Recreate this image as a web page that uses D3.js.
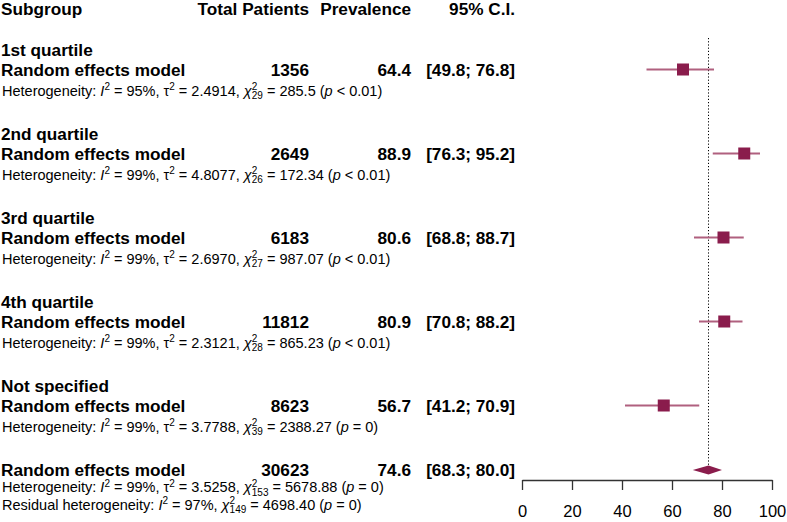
<!DOCTYPE html>
<html>
<head>
<meta charset="utf-8">
<script src="https://cdn.jsdelivr.net/npm/d3@7"></script>
<style>
  body { margin: 0; background: #fff; }
  text { font-family: "Liberation Sans", Arial, Helvetica, sans-serif; fill: #000; }
</style>
</head>
<body>
<div id="chart"></div>
<script>
// subgroup results
var subgroups = ['1st quartile', '2nd quartile', '3rd quartile', '4th quartile', 'Not specified'];
var patients = [1356, 2649, 6183, 11812, 8623];
var prevalence = [64.4, 88.9, 80.6, 80.9, 56.7];
var ciLower = [49.8, 76.3, 68.8, 70.8, 41.2];
var ciUpper = [76.8, 95.2, 88.7, 88.2, 70.9];
var hetI2 = ['95%', '99%', '99%', '99%', '99%'];
var hetTau2 = ['2.4914', '4.8077', '2.6970', '2.3121', '3.7788'];
var hetDf = ['29', '26', '27', '28', '39'];
var hetChi2 = ['285.5', '172.34', '987.07', '865.23', '2388.27'];
var hetP = ['< 0.01', '< 0.01', '< 0.01', '< 0.01', '= 0'];

// overall model: patients, prevalence, lower, upper
var overallValues = [30623, 74.6, 68.3, 80.0];
var overallHet = ['99%', '3.5258', '153', '5678.88', '= 0'];
var residualHet = ['97%', '149', '4698.40', '= 0'];

var tickValues = [0, 20, 40, 60, 80, 100];
var headers = ['Subgroup', 'Total Patients', 'Prevalence', '95% C.I.'];

var width = 787, height = 522;
var boldSize = 17.2, hetSize = 14.5, supSize = 10;
var markColor = '#8a1c4c', lineColor = '#b0607f';

var svg = d3.select('#chart').append('svg')
  .attr('width', width).attr('height', height);

var x = d3.scaleLinear().domain([0, 100]).range([522, 772]);

// column right edges
var colPatients = 309, colPrev = 411, colCI = 515;

function bold(txt, xPos, yPos, anchor) {
  return svg.append('text')
    .attr('x', xPos).attr('y', yPos)
    .attr('text-anchor', anchor || 'start')
    .style('font-size', boldSize + 'px')
    .style('font-weight', 'bold')
    .text(txt);
}

function fmtCI(lo, hi) {
  return '[' + lo.toFixed(1) + '; ' + hi.toFixed(1) + ']';
}

function hetLine(yPos, prefix, i2, tau2, df, chi2, p) {
  var t = svg.append('text').attr('x', 2).attr('y', yPos).style('font-size', hetSize + 'px');
  t.append('tspan').text(prefix + ': ');
  t.append('tspan').style('font-style', 'italic').text('I');
  t.append('tspan').attr('dy', -5.5).style('font-size', supSize + 'px').text('2');
  t.append('tspan').attr('dy', 5.5).text(' = ' + i2 + ', ');
  if (tau2 !== null) {
    t.append('tspan').text('\u03c4');
    t.append('tspan').attr('dy', -5.5).style('font-size', supSize + 'px').text('2');
    t.append('tspan').attr('dy', 5.5).text(' = ' + tau2 + ', ');
  }
  t.append('tspan').style('font-style', 'italic').text('\u03c7');
  t.append('tspan').attr('dy', -5.5).style('font-size', supSize + 'px').text('2');
  t.append('tspan').attr('dx', -5.5).attr('dy', 9).style('font-size', supSize + 'px').text(df);
  t.append('tspan').attr('dy', -3.5).text(' = ' + chi2 + ' (');
  t.append('tspan').style('font-style', 'italic').text('p');
  t.append('tspan').text(' ' + p + ')');
}

// header
bold(headers[0], 1, 14.5);
bold(headers[1], colPatients, 14.5, 'end');
bold(headers[2], colPrev, 14.5, 'end');
bold(headers[3], colCI, 14.5, 'end');

// reference line at the overall estimate
svg.append('line')
  .attr('x1', x(overallValues[1])).attr('x2', x(overallValues[1]))
  .attr('y1', 38).attr('y2', 466)
  .attr('stroke', '#000').attr('stroke-width', 1)
  .attr('stroke-dasharray', '1.2,2');

var groupStep = 84, sq = 12;

subgroups.forEach(function (name, i) {
  var base = 56 + i * groupStep;
  var yRow = base + 20;
  bold(name, 1, base);
  bold('Random effects model', 1, yRow);
  bold(patients[i], colPatients, yRow, 'end');
  bold(prevalence[i].toFixed(1), colPrev, yRow, 'end');
  bold(fmtCI(ciLower[i], ciUpper[i]), colCI, yRow, 'end');
  hetLine(yRow + 19.5, 'Heterogeneity', hetI2[i], hetTau2[i], hetDf[i], hetChi2[i], hetP[i]);

  var cy = yRow - 6.5;
  svg.append('line')
    .attr('x1', x(ciLower[i])).attr('x2', x(ciUpper[i]))
    .attr('y1', cy).attr('y2', cy)
    .attr('stroke', lineColor).attr('stroke-width', 2);
  svg.append('rect')
    .attr('x', x(prevalence[i]) - sq / 2).attr('y', cy - sq / 2)
    .attr('width', sq).attr('height', sq)
    .attr('fill', markColor);
});

// overall model
var yAll = 56 + subgroups.length * groupStep;
bold('Random effects model', 1, yAll);
bold(overallValues[0], colPatients, yAll, 'end');
bold(overallValues[1].toFixed(1), colPrev, yAll, 'end');
bold(fmtCI(overallValues[2], overallValues[3]), colCI, yAll, 'end');
hetLine(yAll + 16, 'Heterogeneity', overallHet[0], overallHet[1], overallHet[2], overallHet[3], overallHet[4]);
hetLine(yAll + 33.5, 'Residual heterogeneity', residualHet[0], null, residualHet[1], residualHet[2], residualHet[3]);

var dy = yAll - 6;
svg.append('path')
  .attr('d', 'M' + x(overallValues[2]) + ',' + dy +
    'L' + x(overallValues[1]) + ',' + (dy - 4.5) +
    'L' + x(overallValues[3]) + ',' + dy +
    'L' + x(overallValues[1]) + ',' + (dy + 4.5) + 'Z')
  .attr('fill', markColor);

// axis
var axis = svg.append('g')
  .attr('transform', 'translate(0,480)')
  .call(d3.axisBottom(x).tickValues(tickValues).tickSize(10).tickSizeOuter(0).tickPadding(15));
axis.select('.domain').attr('stroke', '#333').attr('stroke-width', 1.3);
axis.selectAll('.tick line').attr('stroke', '#333').attr('stroke-width', 1.3);
axis.selectAll('.tick text')
  .style('font-size', '16.5px')
  .style('font-family', '"Liberation Sans", Arial, sans-serif')
  .attr('fill', '#000');
</script>
</body>
</html>
